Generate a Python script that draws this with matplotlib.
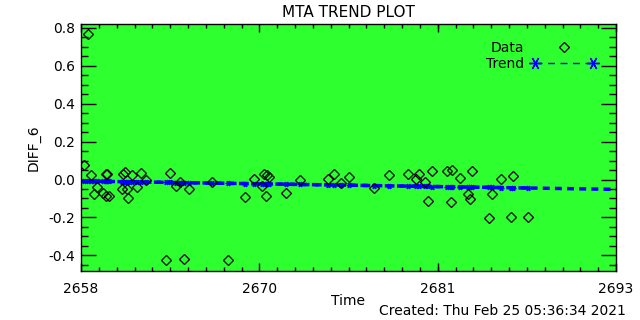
import matplotlib
matplotlib.use("Agg")
import matplotlib.pyplot as plt
from matplotlib.legend_handler import HandlerLine2D
from matplotlib.ticker import MultipleLocator, AutoMinorLocator
import numpy as np

# data
time = [2658.18, 2658.48, 2658.67, 2658.83, 2659.03, 2659.42, 2659.64, 2659.72,
        2659.64, 2659.81, 2660.66, 2660.73, 2660.90, 2660.99, 2661.09, 2661.32,
        2661.64, 2661.91, 2662.23, 2663.54, 2663.84, 2664.20, 2664.50, 2664.76,
        2665.07, 2666.59, 2667.60, 2668.75, 2669.34, 2669.82, 2669.99, 2670.15,
        2670.32, 2670.08, 2671.43, 2672.35, 2674.18, 2674.57, 2674.99, 2675.51,
        2677.19, 2678.17, 2679.41, 2679.90, 2680.13, 2680.50, 2680.94, 2680.72,
        2681.96, 2682.29, 2682.19, 2682.81, 2683.32, 2683.43, 2683.60, 2684.91,
        2684.67, 2685.48, 2686.28, 2686.15, 2687.26]
diff6 = [0.077, 0.766, 0.024, -0.075, -0.038, -0.070, 0.029, 0.029,
         -0.085, -0.085, -0.050, 0.029, 0.041, -0.050, -0.096, 0.024,
         -0.038, 0.033, -0.003, -0.425, 0.036, -0.033, -0.013, -0.421,
         -0.049, -0.013, -0.425, -0.094, 0.001, -0.033, 0.029, 0.024,
         0.012, -0.089, -0.073, -0.004, 0.001, 0.027, -0.020, 0.013,
         -0.046, 0.022, 0.027, 0.001, 0.027, -0.015, 0.043, -0.115,
         0.045, 0.049, -0.120, 0.006, -0.078, -0.103, 0.043, -0.075,
         -0.202, 0.001, 0.017, -0.196, -0.199]

# fitted trend line: value at 2658 and slope per day
trend_x0 = 2658
trend_b = -0.008
trend_m = -0.00126

xticks = [2658, 2669.667, 2681.333, 2693]
xlabels = ["2658", "2670", "2681", "2693"]

green = "#2eff2e"
blue = "#0000ff"
asterisk = (6, 2, 90)

fig = plt.figure(figsize=(6.4, 3.2), dpi=100)
ax = fig.add_axes([0.1266, 0.153, 0.836, 0.7734])
ax.set_facecolor(green)

t = np.array(sorted(time))
trend = trend_b + trend_m * (t - trend_x0)
t_line = np.array([2658, 2693])
ax.plot(t_line, trend_b + trend_m * (t_line - trend_x0), color=blue, lw=2.5,
        ls=(0, (2, 1.5)), zorder=2)
tr, = ax.plot(t, trend, color=blue, lw=2.5, ls=(0, (2, 1.5)), marker=asterisk,
              ms=4, mew=1, label="Trend", zorder=2)
dt, = ax.plot(time, diff6, ls="none", marker="D", ms=5.5, mfc="none",
              mec="black", mew=0.9, label="Data", zorder=3)

ax.set_xlim(2658, 2693)
ax.set_ylim(-0.483, 0.823)
ax.set_xticks(xticks)
ax.set_xticklabels(xlabels)
ax.xaxis.set_minor_locator(AutoMinorLocator(10))
ax.yaxis.set_major_locator(MultipleLocator(0.2))
ax.yaxis.set_minor_locator(MultipleLocator(0.05))
ax.yaxis.set_major_formatter(matplotlib.ticker.FuncFormatter(lambda v, p: "%.1f" % v))
ax.tick_params(which="both", direction="in", top=True, right=True,
               labelsize=10, width=1, color="black")
ax.tick_params(axis="x", which="major", length=6, pad=8)
ax.tick_params(axis="x", which="minor", length=3)
ax.tick_params(axis="y", which="major", length=11, pad=4)
ax.tick_params(axis="y", which="minor", length=5)
for s in ax.spines.values():
    s.set_linewidth(1)

ax.set_title("MTA TREND PLOT", fontsize=11, pad=5)
ax.set_ylabel("DIFF_6", fontsize=10, labelpad=6)
fig.text(348 / 640, 1 - 301 / 320, "Time", ha="center", va="center", fontsize=10)
fig.text(626 / 640, 1 - 311 / 320, "Created: Thu Feb 25 05:36:34 2021",
         ha="right", va="center", fontsize=10)

tr_leg, = ax.plot([], [], color=blue, lw=1, ls=(0, (5, 4)), marker=asterisk,
                  ms=9, mew=1)
ax.legend([dt, tr_leg], ["Data", "Trend"], loc="upper right",
          bbox_to_anchor=(0.978, 0.957), frameon=False, markerfirst=False,
          fontsize=10, handlelength=4.8, handletextpad=0.5, labelspacing=0.1,
          borderpad=0, numpoints=1,
          handler_map={tr_leg: HandlerLine2D(numpoints=2)})

fig.savefig("out.png", dpi=100)
